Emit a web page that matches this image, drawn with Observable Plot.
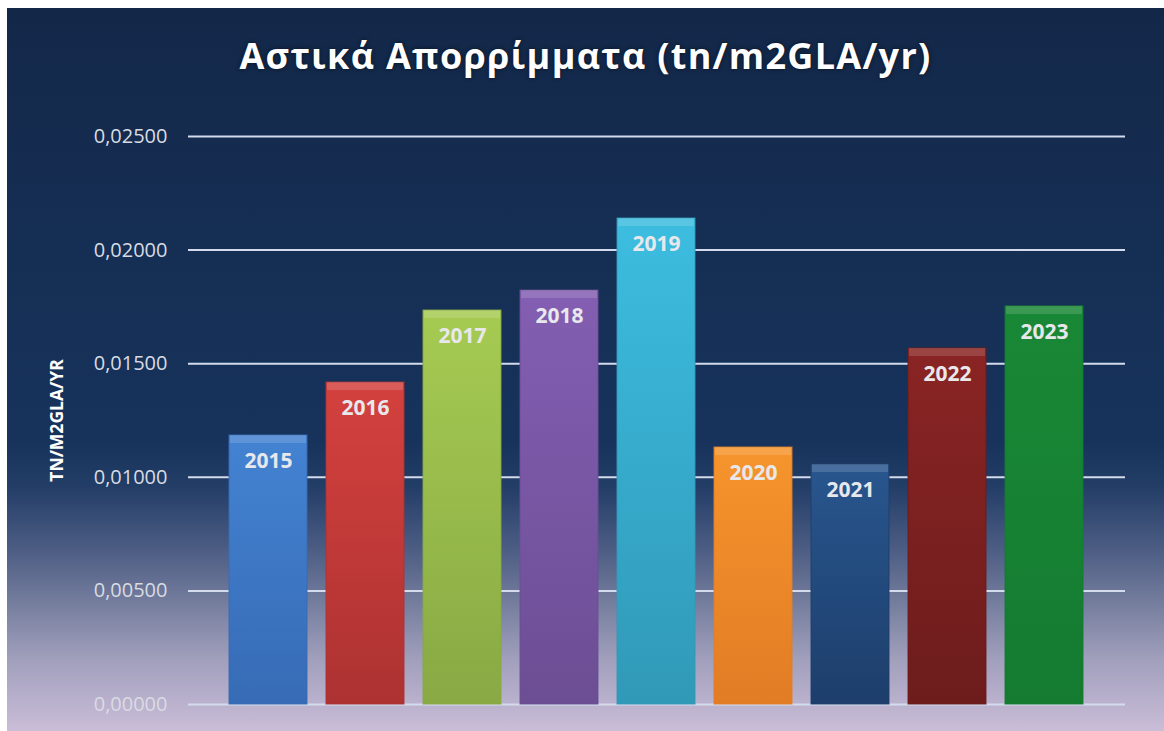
<!DOCTYPE html>
<html>
<head>
<meta charset="utf-8">
<script src="https://cdn.jsdelivr.net/npm/d3@7"></script>
<script src="https://cdn.jsdelivr.net/npm/@observablehq/plot@0.6"></script>
<style>
  html, body { margin: 0; padding: 0; background: #ffffff; }
  #chart {
    position: absolute; left: 7px; top: 8px; width: 1157px; height: 723px;
    background: linear-gradient(to bottom,
      #132849 0%, #17335c 60%, #223d66 66%, #4d5d84 75%, #737c9c 82%, #a09fbc 90%, #cabdd8 100%);
    overflow: hidden;
  }
  #title {
    position: absolute; left: 0; top: 26px; width: 100%;
    text-align: center; color: #ffffff;
    font-family: "Open Sans", sans-serif; font-weight: 700; font-size: 36px;
    letter-spacing: 1.3px; line-height: 44px;
    text-shadow: 0 0 4px rgba(0,0,0,0.6);
  }
  #plot { position: absolute; left: 0; top: 92px; }
</style>
</head>
<body>
<div id="chart">
  <div id="title">Αστικά Απορρίμματα (tn/m2GLA/yr)</div>
  <div id="plot"></div>
</div>
<script>
const years = ["2015", "2016", "2017", "2018", "2019", "2020", "2021", "2022", "2023"];
const values = [0.01184, 0.01417, 0.01734, 0.01822, 0.02139, 0.01131, 0.01056, 0.01567, 0.01752];
const topColors = ["#4383d2", "#d4413e", "#a6cb52", "#835eb2", "#3cbde0", "#f6942c", "#28568e", "#8a2424", "#198836"];
const bottomColors = ["#376bb5", "#ad3232", "#88a944", "#6c4e94", "#3199b8", "#e27c25", "#1d3e6b", "#6d1c1c", "#147b31"];
const yTicks = [0, 0.005, 0.010, 0.015, 0.020, 0.025];
const yLabel = "TN/M2GLA/YR";

const data = years.map((year, i) => ({year, value: values[i], i}));

const plot = Plot.plot({
  width: 1157,
  height: 631,
  marginTop: 36,
  marginBottom: 27,
  marginLeft: 181,
  marginRight: 39,
  style: {background: "transparent", fontFamily: "Open Sans, sans-serif", overflow: "visible"},
  x: {domain: years, paddingInner: 0.2, paddingOuter: 0.1, insetLeft: 30, insetRight: 32, axis: null},
  y: {domain: [0, 0.025], ticks: yTicks, axis: null},
  color: {type: "identity"},
  marks: [
    Plot.ruleY(yTicks, {stroke: "#d3dbec", strokeWidth: 2}),
    Plot.axisY(yTicks, {
      tickSize: 0, tickPadding: 21, fontSize: 20, fill: "#d9dbe3", label: null,
      tickFormat: d => d.toFixed(5).replace(".", ",")
    }),
    Plot.barY(data, {x: "year", y: "value", fill: d => `url(#bar-grad-${d.i})`, stroke: d => bottomColors[d.i], strokeWidth: 1, strokeOpacity: 0.9}),
    Plot.barY(data, {x: "year", y1: "value", y2: "value", insetBottom: -8, insetLeft: 1, insetRight: 1, fill: "#ffffff", fillOpacity: 0.15}),
    Plot.text(data, {
      x: "year", y: "value", dy: 26, text: "year",
      fill: "#e8e8ec", fontSize: 21, fontWeight: 700
    }),
    Plot.text([yLabel], {
      frameAnchor: "left", textAnchor: "middle", dx: -131, rotate: -90, text: d => d,
      fill: "#ffffff", fontSize: 17.5, fontWeight: 700
    })
  ]
});

// gradient definitions for the bars
const ns = "http://www.w3.org/2000/svg";
const defs = document.createElementNS(ns, "defs");
years.forEach((y, i) => {
  const g = document.createElementNS(ns, "linearGradient");
  g.setAttribute("id", `bar-grad-${i}`);
  g.setAttribute("x1", "0"); g.setAttribute("y1", "0");
  g.setAttribute("x2", "0"); g.setAttribute("y2", "1");
  const s1 = document.createElementNS(ns, "stop");
  s1.setAttribute("offset", "0"); s1.setAttribute("stop-color", topColors[i]);
  const s2 = document.createElementNS(ns, "stop");
  s2.setAttribute("offset", "1"); s2.setAttribute("stop-color", bottomColors[i]);
  g.appendChild(s1); g.appendChild(s2);
  defs.appendChild(g);
});
plot.insertBefore(defs, plot.firstChild);

document.getElementById("plot").appendChild(plot);
</script>
</body>
</html>
